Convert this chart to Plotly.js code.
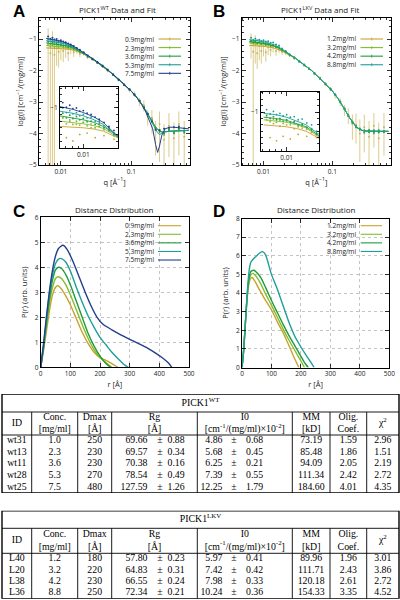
<!DOCTYPE html>
<html><head><meta charset="utf-8">
<script src="https://cdn.plot.ly/plotly-3.0.1.min.js"></script>
<style>html,body{margin:0;padding:0;background:#fff}#chart{width:400px;height:600px}</style>
</head><body><div id="chart"></div>
<script>
// ---------- Panel A / B : SAXS curves ----------
const qFit = [0.0062,0.008,0.01,0.0125,0.015,0.02,0.025,0.03,0.04,0.05,0.065,0.08,0.1,0.12,0.14,0.16,0.18,0.2,0.22,0.235,0.25,0.27,0.3,0.35,0.4,0.5,0.65];
const qData = [0.0066,0.0071,0.0076,0.0081,0.0087,0.0093,0.0100,0.0108,0.0117,0.0127,0.0138,0.0152,0.0168,0.0186,0.021,0.024,0.028,0.033,0.039,0.046,0.055,0.066,0.079,0.094,0.11,0.13,0.15,0.17,0.195,0.22,0.25,0.29,0.34,0.4,0.47,0.56];

const labelsA = ['0.9mg/ml','2.3mg/ml','3.6mg/ml','5.3mg/ml','7.5mg/ml'];
const fitA09 = [-1.28,-1.29,-1.30,-1.32,-1.35,-1.45,-1.57,-1.68,-1.88,-2.05,-2.28,-2.46,-2.66,-2.86,-3.06,-3.27,-3.47,-3.65,-3.80,-3.87,-3.92,-3.95,-3.95,-3.93,-3.92,-3.90,-3.90];
const fitA23 = [-1.20,-1.22,-1.24,-1.27,-1.31,-1.44,-1.56,-1.68,-1.88,-2.05,-2.28,-2.46,-2.66,-2.86,-3.06,-3.27,-3.47,-3.65,-3.80,-3.87,-3.92,-3.95,-3.95,-3.93,-3.92,-3.90,-3.90];
const fitA36 = [-1.12,-1.15,-1.18,-1.22,-1.28,-1.42,-1.55,-1.68,-1.88,-2.05,-2.28,-2.46,-2.66,-2.86,-3.06,-3.27,-3.47,-3.65,-3.80,-3.87,-3.92,-3.95,-3.95,-3.93,-3.92,-3.90,-3.90];
const fitA53 = [-1.05,-1.08,-1.12,-1.18,-1.25,-1.41,-1.54,-1.67,-1.87,-2.04,-2.27,-2.46,-2.66,-2.86,-3.06,-3.28,-3.50,-3.70,-3.88,-3.98,-4.03,-4.00,-3.95,-3.93,-3.92,-3.90,-3.90];
const fitA75 = [-0.98,-1.02,-1.07,-1.14,-1.22,-1.40,-1.53,-1.66,-1.86,-2.03,-2.26,-2.45,-2.66,-2.87,-3.08,-3.32,-3.58,-3.85,-4.35,-4.60,-4.40,-4.05,-3.85,-3.80,-3.80,-3.82,-3.85];

const dataA09 = [-1.15,-1.45,-1.20,-1.50,-1.25,-1.40,-1.22,-1.38,-1.30,-1.45,-1.28,-1.42,-1.35,-1.47,-1.45,-1.58,-1.62,-1.76,-1.84,-2.00,-2.12,-2.30,-2.44,-2.62,-2.74,-2.98,-3.10,-3.45,-3.50,-3.90,-3.70,-4.20,-3.75,-4.15,-3.70,-4.10];
const errUpA09 = [0.5,0.4,0.45,0.3,0.2,0.15,0.15,0.12,0.1,0.1,0.08,0.07,0.06,0.05,0.05,0.04,0.04,0.03,0.03,0.03,0.03,0.04,0.05,0.06,0.08,0.1,0.15,0.2,0.25,0.3,0.4,0.5,0.4,0.5,0.4,0.5];
const errDnA09 = [4.0,4.0,3.8,3.5,0.6,0.5,0.45,0.35,0.3,0.25,0.2,0.15,0.12,0.1,0.08,0.06,0.05,0.04,0.04,0.04,0.04,0.05,0.06,0.08,0.1,0.15,0.2,0.3,0.5,0.8,1.2,1.5,1.0,1.5,1.0,1.5];
const dataA23 = [-1.15,-1.24,-1.18,-1.25,-1.20,-1.26,-1.22,-1.27,-1.24,-1.30,-1.28,-1.33,-1.35,-1.42,-1.46,-1.56,-1.63,-1.75,-1.85,-1.99,-2.12,-2.30,-2.44,-2.61,-2.75,-2.97,-3.15,-3.40,-3.55,-3.85,-3.88,-4.05,-3.85,-4.00,-3.82,-3.98];
const dataA36 = [-1.08,-1.15,-1.11,-1.16,-1.13,-1.18,-1.16,-1.21,-1.20,-1.25,-1.24,-1.30,-1.33,-1.40,-1.45,-1.55,-1.65,-1.73,-1.87,-1.97,-2.14,-2.28,-2.46,-2.59,-2.77,-2.95,-3.18,-3.36,-3.62,-3.82,-3.90,-4.00,-3.88,-3.98,-3.85,-3.95];
const dataA53 = [-1.00,-1.07,-1.04,-1.09,-1.07,-1.12,-1.10,-1.15,-1.14,-1.20,-1.20,-1.27,-1.30,-1.38,-1.44,-1.55,-1.63,-1.75,-1.85,-1.99,-2.12,-2.30,-2.45,-2.60,-2.76,-2.96,-3.16,-3.38,-3.58,-3.85,-3.95,-3.98,-3.90,-3.96,-3.88,-3.92];
const dataA75 = [-0.92,-0.99,-0.96,-1.01,-1.00,-1.05,-1.04,-1.08,-1.10,-1.14,-1.17,-1.22,-1.28,-1.34,-1.42,-1.52,-1.63,-1.74,-1.86,-1.98,-2.13,-2.29,-2.46,-2.60,-2.77,-2.97,-3.18,-3.38,-3.62,-3.88,-3.90,-3.85,-3.82,-3.80,-3.78,-3.84];

const labelsB = ['1.2mg/ml','3.2mg/ml','4.2mg/ml','8.8mg/ml'];
const fitB12 = [-1.20,-1.21,-1.23,-1.26,-1.30,-1.42,-1.53,-1.63,-1.84,-2.00,-2.24,-2.43,-2.65,-2.88,-3.10,-3.33,-3.52,-3.68,-3.78,-3.83,-3.86,-3.90,-3.92,-3.93,-3.93,-3.93,-3.93];
const fitB32 = [-1.12,-1.14,-1.16,-1.20,-1.25,-1.40,-1.52,-1.63,-1.84,-2.00,-2.24,-2.43,-2.65,-2.88,-3.10,-3.33,-3.52,-3.68,-3.78,-3.83,-3.86,-3.90,-3.92,-3.93,-3.93,-3.93,-3.93];
const fitB42 = [-1.08,-1.10,-1.13,-1.18,-1.23,-1.38,-1.51,-1.63,-1.84,-2.00,-2.24,-2.43,-2.65,-2.88,-3.10,-3.33,-3.52,-3.68,-3.78,-3.83,-3.86,-3.90,-3.92,-3.93,-3.93,-3.93,-3.93];
const fitB88 = [-1.02,-1.04,-1.08,-1.14,-1.20,-1.36,-1.50,-1.63,-1.84,-2.00,-2.24,-2.43,-2.65,-2.88,-3.10,-3.33,-3.52,-3.68,-3.78,-3.83,-3.86,-3.90,-3.92,-3.93,-3.93,-3.93,-3.93];

const dataB12 = [-1.12,-1.40,-1.18,-1.45,-1.22,-1.38,-1.20,-1.42,-1.26,-1.35,-1.25,-1.38,-1.32,-1.40,-1.43,-1.52,-1.62,-1.69,-1.84,-1.93,-2.11,-2.23,-2.44,-2.58,-2.79,-2.98,-3.24,-3.40,-3.70,-3.72,-4.00,-3.80,-4.10,-3.75,-4.15,-3.80];
const errUpB12 = [0.3,0.4,0.3,0.25,0.2,0.18,0.15,0.12,0.1,0.1,0.08,0.07,0.06,0.05,0.05,0.04,0.04,0.03,0.03,0.03,0.03,0.04,0.05,0.06,0.08,0.1,0.15,0.2,0.3,0.35,0.45,0.4,0.5,0.4,0.5,0.45];
const errDnB12 = [0.5,4.0,0.6,0.5,0.45,0.4,0.35,0.3,0.25,0.2,0.18,0.15,0.12,0.1,0.08,0.06,0.05,0.04,0.04,0.04,0.04,0.05,0.06,0.08,0.1,0.15,0.2,0.3,0.5,0.6,0.9,0.8,1.2,0.7,1.4,0.9];
const dataB32 = [-1.08,-1.15,-1.11,-1.16,-1.13,-1.18,-1.15,-1.20,-1.18,-1.23,-1.22,-1.27,-1.28,-1.36,-1.41,-1.51,-1.60,-1.70,-1.83,-1.94,-2.10,-2.24,-2.42,-2.60,-2.76,-3.01,-3.21,-3.44,-3.63,-3.80,-3.85,-3.98,-3.88,-4.00,-3.90,-3.95];
const dataB42 = [-1.05,-1.10,-1.07,-1.12,-1.10,-1.14,-1.12,-1.16,-1.15,-1.20,-1.19,-1.24,-1.26,-1.34,-1.40,-1.50,-1.59,-1.72,-1.82,-1.95,-2.09,-2.25,-2.43,-2.58,-2.78,-2.99,-3.23,-3.42,-3.66,-3.76,-3.88,-3.90,-3.96,-3.90,-3.97,-3.92];
const dataB88 = [-0.96,-1.03,-0.99,-1.04,-1.02,-1.06,-1.04,-1.08,-1.07,-1.12,-1.11,-1.17,-1.20,-1.30,-1.38,-1.49,-1.58,-1.71,-1.81,-1.95,-2.08,-2.26,-2.41,-2.60,-2.76,-3.01,-3.20,-3.45,-3.62,-3.80,-3.84,-3.95,-3.90,-3.97,-3.90,-3.96];

// ---------- Panel C / D : distance distributions ----------
const rC09 = [0,10,20,30,40,50,57,65,80,100,120,140,160,180,200,220,240,260];
const pC09 = [0,0.7,1.5,2.3,2.9,3.2,3.26,3.2,2.95,2.5,1.95,1.4,0.95,0.6,0.38,0.28,0.15,0];
const rC23 = [0,10,20,30,40,50,60,70,85,100,120,140,160,180,200,220,240];
const pC23 = [0,0.8,1.7,2.6,3.2,3.55,3.62,3.55,3.3,2.9,2.3,1.7,1.15,0.7,0.4,0.18,0];
const rC36 = [0,10,20,30,40,50,60,70,85,100,120,140,160,180,200,220,235];
const pC36 = [0,0.85,1.85,2.8,3.5,3.9,4.0,3.95,3.7,3.3,2.65,2.0,1.35,0.85,0.45,0.15,0];
const rC53 = [0,10,20,30,40,50,60,70,85,100,120,140,160,180,200,220,240,260,280,295];
const pC53 = [0,0.9,2.0,3.0,3.7,4.15,4.33,4.35,4.2,3.85,3.2,2.6,2.05,1.6,1.2,0.9,0.6,0.35,0.12,0];
const rC75 = [0,10,20,30,40,50,60,75,90,110,130,150,170,190,210,240,270,300,330,360,390,410,430,442];
const pC75 = [0,1.0,2.1,3.1,3.9,4.45,4.75,4.88,4.7,4.2,3.6,3.0,2.45,2.0,1.72,1.5,1.3,1.12,0.95,0.77,0.55,0.38,0.18,0];

const rD12 = [0,5,10,15,20,25,30,35,45,60,80,100,120,140,160,175,193];
const pD12 = [0,0.8,2.0,3.2,4.1,4.6,4.8,4.83,4.6,4.15,3.6,3.1,2.45,1.85,1.15,0.6,0];
const rD32 = [0,5,10,15,20,25,30,38,50,65,80,100,120,140,160,180,200,212];
const pD32 = [0,0.8,2.0,3.2,4.2,4.75,4.98,5.05,4.85,4.45,3.95,3.35,2.7,2.05,1.45,0.9,0.35,0];
const rD42 = [0,5,10,15,20,25,30,40,50,65,80,100,120,140,160,180,200,215,225];
const pD42 = [0,0.8,2.0,3.3,4.3,4.9,5.15,5.22,5.1,4.8,4.3,3.6,2.95,2.3,1.7,1.15,0.6,0.2,0];
const rD88 = [0,5,10,15,20,25,30,40,50,60,70,80,100,120,140,160,180,200,220,235,245];
const pD88 = [0,0.8,2.0,3.3,4.5,5.3,5.65,5.85,6.0,6.15,6.22,6.05,5.0,4.2,3.3,2.4,1.65,1.1,0.6,0.25,0];

// ---------- Tables ----------
const tableCols = ['ID','Conc.<br>[mg/ml]','Dmax<br>[Å]','Rg<br>[Å]','I0<br>[cm<sup>-1</sup>/(mg/ml)×10<sup>-2</sup>]','MM<br>[kD]','Olig.<br>Coef.','χ<sup>2</sup>'];
const wtID = ['wt31','wt13','wt11','wt28','wt25'];
const wtConc = ['1.0','2.3','3.6','5.3','7.5'];
const wtDmax = [250,230,230,270,480];
const wtRg = [69.66,69.57,70.38,78.54,127.59];
const wtRgErr = [0.88,0.34,0.16,0.49,1.26];
const wtI0 = [4.86,5.68,6.25,7.39,12.25];
const wtI0Err = [0.68,0.45,0.21,0.55,1.79];
const wtMM = [73.19,85.48,94.09,111.34,184.60];
const wtOlig = [1.59,1.86,2.05,2.42,4.01];
const wtChi = [2.96,1.51,2.19,2.72,4.35];
const lkvID = ['L40','L20','L38','L36'];
const lkvConc = ['1.2','3.2','4.2','8.8'];
const lkvDmax = [180,220,230,250];
const lkvRg = [57.80,64.83,66.55,72.34];
const lkvRgErr = [0.23,0.31,0.24,0.21];
const lkvI0 = [5.97,7.42,7.98,10.24];
const lkvI0Err = [0.41,0.42,0.33,0.36];
const lkvMM = [89.96,111.71,120.18,154.33];
const lkvOlig = [1.96,2.43,2.61,3.35];
const lkvChi = [3.01,3.86,2.72,4.52];

// ---------- styling ----------
const GOLD='#c9a22e', YG='#84bd2c', GRN='#1f9b3c', TEAL='#1c9f9a', BLUE='#233f8d', GOLDERR='#dccb8a';
const FONT = 'Open Sans, Liberation Sans, sans-serif';
const SERIF = 'Liberation Serif, Times New Roman, serif';
const colorsA = [GOLD,YG,GRN,TEAL,BLUE];
const colorsB = [GOLD,YG,GRN,TEAL];
const px2x = p => p/400, py2y = p => 1 - p/600;

const traces = [];
function addSaxs(fits, datas, colors, mainX, mainY, inX, inY, goldErr) {
  fits.forEach((f,i)=>{
    const d = datas[i];
    const dataTrace = {x:qData, y:d, xaxis:mainX, yaxis:mainY, mode:'markers', type:'scatter', showlegend:false,
      marker:{size: 2, color: colors[i]}, hoverinfo:'skip'};
    if(i===0 && goldErr){
      dataTrace.error_y = {type:'data', symmetric:false, array:goldErr[0], arrayminus:goldErr[1], color:GOLDERR, thickness:1, width:0};
      dataTrace.marker.color = '#c8b45e';
    }
    traces.push(dataTrace);
    traces.push({x:qFit, y:f, xaxis:mainX, yaxis:mainY, mode:'lines', type:'scatter', showlegend:false,
      line:{color:colors[i], width:1}, hoverinfo:'skip'});
    traces.push({x:qData, y:d, xaxis:inX, yaxis:inY, mode:'markers', type:'scatter', showlegend:false,
      marker:{size:1.8, color:colors[i]}, hoverinfo:'skip'});
    traces.push({x:qFit, y:f, xaxis:inX, yaxis:inY, mode:'lines', type:'scatter', showlegend:false,
      line:{color:colors[i], width:0.9}, hoverinfo:'skip'});
  });
}
addSaxs([fitA09,fitA23,fitA36,fitA53,fitA75],[dataA09,dataA23,dataA36,dataA53,dataA75],colorsA,'x','y','x2','y2',[errUpA09,errDnA09]);
addSaxs([fitB12,fitB32,fitB42,fitB88],[dataB12,dataB32,dataB42,dataB88],colorsB,'x3','y3','x4','y4',[errUpB12,errDnB12]);

[[rC09,pC09],[rC23,pC23],[rC36,pC36],[rC53,pC53],[rC75,pC75]].forEach((s,i)=>{
  traces.push({x:s[0], y:s[1], xaxis:'x5', yaxis:'y5', type:'scatter', mode:'lines', showlegend:false,
    line:{color:colorsA[i], width:1.4, shape:'spline', smoothing:0.6}, hoverinfo:'skip'});
});
[[rD12,pD12],[rD32,pD32],[rD42,pD42],[rD88,pD88]].forEach((s,i)=>{
  traces.push({x:s[0], y:s[1], xaxis:'x6', yaxis:'y6', type:'scatter', mode:'lines', showlegend:false,
    line:{color:colorsB[i], width:1.4, shape:'spline', smoothing:0.6}, hoverinfo:'skip'});
});

// ---------- tables as text on hidden axes (units = pixels) ----------
const colEdges = [2,31.7,77.7,111.7,197.3,292.3,330,366.7,399];
const shapes = [];
function addTable(xa, ya, title, titleH, headH, rowH, simpleCols, rgV, rgE, i0V, i0E) {
  const n = simpleCols[0].length;
  const bottom = titleH + headH + n*rowH;
  const tf = {family:SERIF, size:9.8, color:'#000'};
  const centers = colEdges.slice(0,-1).map((e,i)=>(e+colEdges[i+1])/2);
  const base = {type:'scatter', mode:'text', xaxis:xa, yaxis:ya, showlegend:false, hoverinfo:'skip', cliponaxis:false, textfont:tf};
  traces.push(Object.assign({}, base, {x:[(colEdges[0]+colEdges[8])/2], y:[titleH/2+0.5], text:[title], textposition:'middle center'}));
  traces.push(Object.assign({}, base, {x:centers, y:centers.map(()=>titleH+headH/2), text:tableCols, textposition:'middle center'}));
  const rowY = Array.from({length:n},(_,r)=>titleH+headH+rowH*(r+0.5));
  [0,1,2,5,6,7].forEach((c,k)=>{
    traces.push(Object.assign({}, base, {x:rowY.map(()=>centers[c]), y:rowY, text:simpleCols[k], textposition:'middle center'}));
  });
  // Rg and I0 columns: value | ± | error
  [[rgV,rgE,147.5,160,167.5],[i0V,i0E,222.5,234,246]].forEach(([v,e,xv,xpm,xe])=>{
    traces.push(Object.assign({}, base, {x:rowY.map(()=>xv), y:rowY, text:v.map(a=>a.toFixed(2)), textposition:'middle left'}));
    traces.push(Object.assign({}, base, {x:rowY.map(()=>xpm), y:rowY, text:rowY.map(()=>'±'), textposition:'middle center'}));
    traces.push(Object.assign({}, base, {x:rowY.map(()=>xe), y:rowY, text:e.map(a=>a.toFixed(2)), textposition:'middle right'}));
  });
  const L = {color:'#000', width:0.9};
  shapes.push({type:'rect', xref:xa, yref:ya, x0:colEdges[0], x1:colEdges[8], y0:0, y1:bottom, line:{color:'#000', width:1.4}});
  shapes.push({type:'line', xref:xa, yref:ya, x0:colEdges[0], x1:colEdges[8], y0:titleH, y1:titleH, line:L});
  shapes.push({type:'line', xref:xa, yref:ya, x0:colEdges[0], x1:colEdges[8], y0:titleH+headH, y1:titleH+headH, line:L});
  colEdges.slice(1,-1).forEach(e=>shapes.push({type:'line', xref:xa, yref:ya, x0:e, x1:e, y0:titleH, y1:bottom, line:L}));
  return bottom;
}
const wtSimple = [wtID, wtConc, wtDmax.map(String), wtMM.map(v=>v.toFixed(2)), wtOlig.map(v=>v.toFixed(2)), wtChi.map(v=>v.toFixed(2))];
const lkvSimple = [lkvID, lkvConc, lkvDmax.map(String), lkvMM.map(v=>v.toFixed(2)), lkvOlig.map(v=>v.toFixed(2)), lkvChi.map(v=>v.toFixed(2))];
const wtBottom = addTable('x7','y7','PICK1<sup>WT</sup>', 18, 23, 11.6, wtSimple, wtRg, wtRgErr, wtI0, wtI0Err);
const lkvBottom = addTable('x8','y8','PICK1<sup>LKV</sup>', 17.6, 25, 11.35, lkvSimple, lkvRg, lkvRgErr, lkvI0, lkvI0Err);

// ---------- legends (one right-aligned text block + colour keys) ----------
const annotations = [];
const LEG_FS = 6.6, LEG_LH = LEG_FS * 1.3;
function addLegend(labels, colors, textRight, lineX0, lineX1, yTop, errTicks) {
  const n = labels.length;
  annotations.push({text:labels.join('<br>'), align:'right', xref:'paper', yref:'paper', x:px2x(textRight),
    y:py2y(yTop + (n-1)*LEG_LH/2), xanchor:'right', yanchor:'middle', borderpad:0,
    showarrow:false, font:{family:FONT, size:LEG_FS, color:'#222'}});
  labels.forEach((lab,i)=>{
    const yTopPx = yTop + i*LEG_LH;
    const yy = py2y(yTopPx);
    shapes.push({type:'line', xref:'paper', yref:'paper', x0:px2x(lineX0), x1:px2x(lineX1), y0:yy, y1:yy, line:{color:colors[i], width:1.1}});
    if(errTicks){
      const xm = px2x((lineX0+lineX1)/2);
      shapes.push({type:'line', xref:'paper', yref:'paper', x0:xm, x1:xm, y0:py2y(yTopPx-1.5), y1:py2y(yTopPx+1.5), line:{color:colors[i], width:0.8}});
    }
  });
}
addLegend(labelsA, colorsA, 155, 158.5, 181, 39, true);
addLegend(labelsB, colorsB, 357, 360.5, 383, 39, true);
addLegend(labelsA, colorsA, 155, 158, 181, 225.7, false);
addLegend(labelsB, colorsB, 357, 360.7, 382, 225.7, false);

// ---------- layout ----------
const tickFont = {family:FONT, size:6.5, color:'#222'};
const titleFont = {family:FONT, size:7.5, color:'#222'};
function ax(extra){
  return Object.assign({showline:true, linecolor:'#000', linewidth:1, mirror:'ticks', ticks:'inside', ticklen:4,
    tickcolor:'#000', tickwidth:0.8, showgrid:false, zeroline:false, tickfont:tickFont, fixedrange:true}, extra);
}
const logMinor = [];
[0.001,0.01,0.1].forEach(d=>{ for(let k=2;k<=9;k++) logMinor.push(+(k*d).toPrecision(3)); });
const insetARange = [-2.205,-1.695], insetBRange = [-2.234,-1.708], insetYRange = [-1.61,-0.68];
shapes.push({type:'rect', xref:'x', yref:'y', x0:insetARange[0], x1:insetARange[1], y0:insetYRange[0], y1:insetYRange[1], line:{color:'#666', width:0.8}});
shapes.push({type:'rect', xref:'x3', yref:'y3', x0:insetBRange[0], x1:insetBRange[1], y0:insetYRange[0], y1:insetYRange[1], line:{color:'#666', width:0.8}});

const letterFont = {family:'Liberation Sans, Arial, sans-serif', size:17, color:'#000'};
[['A',11,0],['B',211,0],['C',11,200],['D',211,200]].forEach(([t,x,y])=>annotations.push(
  {text:'<b>'+t+'</b>', xref:'paper', yref:'paper', x:px2x(x), y:py2y(y), xanchor:'left', yanchor:'top', showarrow:false, font:letterFont}));
[['PICK1<sup>WT</sup> Data and Fit',117,2],['PICK1<sup>LKV</sup> Data and Fit',320,2],['Distance Distribution',115,202],['Distance Distribution',316,202]].forEach(([t,x,y])=>annotations.push(
  {text:t, xref:'paper', yref:'paper', x:px2x(x), y:py2y(y), xanchor:'center', yanchor:'top', showarrow:false, font:{family:FONT, size:8, color:'#222'}}));

const hidden = {visible:false, fixedrange:true};
const layout = {
  width:400, height:600, margin:{l:0,r:0,t:0,b:0}, paper_bgcolor:'#fff', plot_bgcolor:'rgba(0,0,0,0)',
  font:{family:FONT, size:7.5, color:'#222'}, showlegend:false,
  xaxis: ax({domain:[px2x(39),px2x(190)], anchor:'y', type:'log', range:[-2.31,-0.17], tickvals:[0.01,0.1], ticktext:['0.01','0.1'],
    minor:{tickvals:logMinor, ticks:'inside', ticklen:2, tickcolor:'#000'},
    title:{text:'q [Å<sup>−1</sup>]', font:titleFont, standoff:4}}),
  yaxis: ax({domain:[py2y(165),py2y(18)], anchor:'x', range:[-5,-0.33], dtick:1,
    minor:{dtick:0.2, ticks:'inside', ticklen:2, tickcolor:'#000'},
    title:{text:'log(I) [cm<sup>−1</sup>/(mg/ml)]', font:titleFont, standoff:4}}),
  xaxis2: ax({domain:[px2x(60),px2x(118)], anchor:'y2', type:'log', range:insetARange, tickvals:[0.01], ticktext:['0.01'],
    minor:{tickvals:logMinor, ticks:'inside', ticklen:2, tickcolor:'#000'}}),
  yaxis2: ax({domain:[py2y(148.3),py2y(86.7)], anchor:'x2', range:insetYRange, tickvals:[-1], ticktext:['−1'],
    minor:{dtick:0.1, ticks:'inside', ticklen:2, tickcolor:'#000'}}),
  xaxis3: ax({domain:[px2x(241.7),px2x(391)], anchor:'y3', type:'log', range:[-2.316,-0.15], tickvals:[0.01,0.1], ticktext:['0.01','0.1'],
    minor:{tickvals:logMinor, ticks:'inside', ticklen:2, tickcolor:'#000'},
    title:{text:'q [Å<sup>−1</sup>]', font:titleFont, standoff:4}}),
  yaxis3: ax({domain:[py2y(165),py2y(18)], anchor:'x3', range:[-5,-0.33], dtick:1,
    minor:{dtick:0.2, ticks:'inside', ticklen:2, tickcolor:'#000'},
    title:{text:'log(I) [cm<sup>−1</sup>/(mg/ml)]', font:titleFont, standoff:4}}),
  xaxis4: ax({domain:[px2x(260.7),px2x(319)], anchor:'y4', type:'log', range:insetBRange, tickvals:[0.01], ticktext:['0.01'],
    minor:{tickvals:logMinor, ticks:'inside', ticklen:2, tickcolor:'#000'}}),
  yaxis4: ax({domain:[py2y(151),py2y(91.7)], anchor:'x4', range:insetYRange, tickvals:[-1], ticktext:['−1'],
    minor:{dtick:0.1, ticks:'inside', ticklen:2, tickcolor:'#000'}}),
  xaxis5: ax({domain:[px2x(40.7),px2x(189)], anchor:'y5', range:[0,500], dtick:100, showgrid:true, gridcolor:'#b5b5b5', griddash:'dot', gridwidth:0.8,
    title:{text:'r [Å]', font:titleFont, standoff:4}}),
  yaxis5: ax({domain:[py2y(367.3),py2y(217.3)], anchor:'x5', range:[0,6], dtick:1, showgrid:true, gridcolor:'#b5b5b5', griddash:'dot', gridwidth:0.8,
    title:{text:'P(r) (arb. units)', font:titleFont, standoff:6}}),
  xaxis6: ax({domain:[px2x(242),px2x(389.3)], anchor:'y6', range:[0,500], dtick:100, showgrid:true, gridcolor:'#b5b5b5', griddash:'dot', gridwidth:0.8,
    title:{text:'r [Å]', font:titleFont, standoff:4}}),
  yaxis6: ax({domain:[py2y(367.5),py2y(218.5)], anchor:'x6', range:[0,8], dtick:1, showgrid:true, gridcolor:'#b5b5b5', griddash:'dot', gridwidth:0.8,
    title:{text:'P(r) (arb. units)', font:titleFont, standoff:6}}),
  xaxis7: Object.assign({domain:[0,1], range:[0,400], anchor:'y7'}, hidden),
  yaxis7: Object.assign({domain:[py2y(394+wtBottom),py2y(394)], range:[wtBottom,0], anchor:'x7'}, hidden),
  xaxis8: Object.assign({domain:[0,1], range:[0,400], anchor:'y8'}, hidden),
  yaxis8: Object.assign({domain:[py2y(510.7+lkvBottom),py2y(510.7)], range:[lkvBottom,0], anchor:'x8'}, hidden),
  shapes: shapes,
  annotations: annotations
};
Plotly.newPlot('chart', traces, layout, {staticPlot:true, displayModeBar:false});
</script></body></html>
